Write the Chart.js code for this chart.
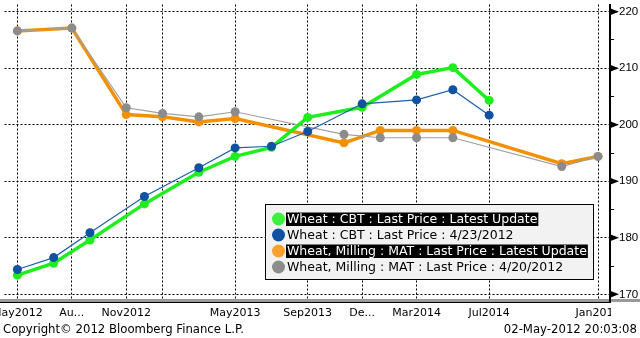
<!DOCTYPE html>
<html>
<head>
<meta charset="utf-8">
<script src="https://cdn.jsdelivr.net/npm/chart.js@4/dist/chart.umd.min.js"></script>
<style>
    body { margin: 0; background: #fff; }
    #wrap { position: relative; width: 640px; height: 338px; }
    .foot { position: absolute; top: 322px; font: 11.7px 'DejaVu Sans', sans-serif; color: #000; white-space: nowrap; }
</style>
</head>
<body>
<div id="wrap">
    <canvas id="curve" width="640" height="338"></canvas>
    <div class="foot" style="left:3px">Copyright© 2012 Bloomberg Finance L.P.</div>
    <div class="foot" style="right:3px">02-May-2012 20:03:08</div>
</div>
<script>
// contract months and prices
const cbtMonths = ['2012-05', '2012-07', '2012-09', '2012-12', '2013-03', '2013-05', '2013-07', '2013-09', '2013-12', '2014-03', '2014-05', '2014-07'];
const cbtLatest = [173.4, 175.5, 179.6, 186.0, 191.6, 194.4, 196.0, 201.3, 203.1, 208.9, 210.1, 204.3];
const cbtApr23 = [174.4, 176.5, 180.9, 187.3, 192.4, 195.9, 196.2, 198.8, 203.7, 204.4, 206.2, 201.7];

const matMonths = ['2012-05', '2012-08', '2012-11', '2013-01', '2013-03', '2013-05', '2013-11', '2014-01', '2014-03', '2014-05', '2014-11', '2015-01'];
const matLatest = [216.6, 217.1, 201.8, 201.4, 200.5, 201.1, 196.8, 199.0, 199.0, 199.0, 193.1, 194.4];
const matApr20 = [216.6, 217.1, 203.0, 202.0, 201.4, 202.3, 198.3, 197.7, 197.7, 197.7, 192.6, 194.4];

// x axis ticks
const tickMonths = ['2012-05', '2012-08', '2012-11', '2013-01', '2013-05', '2013-09', '2013-12', '2014-03', '2014-07', '2015-01'];
const tickLabels = ['May2012', 'Au...', 'Nov2012', '', 'May2013', 'Sep2013', 'De...', 'Mar2014', 'Jul2014', 'Jan2015'];

// months counted from May 2012
function monthIndex(s) {
    const [y, m] = s.split('-').map(Number);
    return (y - 2012) * 12 + (m - 5);
}

function toPoints(months, values) {
    return months.map((m, i) => ({ x: monthIndex(m), y: values[i] }));
}

Chart.defaults.font.family = "'DejaVu Sans', sans-serif";
Chart.defaults.font.size = 11;
Chart.defaults.color = '#000';

// boxed legend with the highlighted rows
const legendBox = {
    id: 'legendBox',
    afterDraw(chart) {
        const ctx = chart.ctx;
        const highlight = [true, false, true, false];
        ctx.save();
        ctx.fillStyle = '#f2f2f2';
        ctx.fillRect(265, 204, 328, 75);
        ctx.strokeStyle = '#000';
        ctx.lineWidth = 1;
        ctx.strokeRect(265.5, 204.5, 328, 75);
        ctx.font = "12.5px 'DejaVu Sans', sans-serif";
        ctx.textBaseline = 'middle';
        chart.data.datasets.forEach((ds, i) => {
            const cy = 219 + i * 16;
            ctx.beginPath();
            ctx.arc(278.5, cy, 6.5, 0, Math.PI * 2);
            ctx.fillStyle = ds.legendColor;
            ctx.fill();
            const w = ctx.measureText(ds.label).width;
            if (highlight[i]) {
                ctx.fillStyle = '#000';
                ctx.fillRect(286, cy - 6.5, w + 2, 13.5);
                ctx.fillStyle = '#fff';
            } else {
                ctx.fillStyle = '#000';
            }
            ctx.fillText(ds.label, 287, cy + 0.5);
        });
        ctx.restore();
    }
};

// axis frame: arrow marks on the price axis and the grey base bar
const frame = {
    id: 'frame',
    afterDraw(chart) {
        const ctx = chart.ctx;
        const area = chart.chartArea;
        const yScale = chart.scales.y;
        ctx.save();
        ctx.fillStyle = '#fff';
        ctx.fillRect(area.right + 1, area.bottom + 3, 640 - area.right, 20);
        ctx.fillStyle = '#000';
        yScale.ticks.forEach(t => {
            if (t.value % 10 !== 0) return;
            const py = yScale.getPixelForValue(t.value);
            ctx.beginPath();
            ctx.moveTo(area.right, py - 3.5);
            ctx.lineTo(area.right + 9, py);
            ctx.lineTo(area.right, py + 3.5);
            ctx.closePath();
            ctx.fill();
        });
        ctx.fillStyle = '#9a9a9a';
        ctx.fillRect(0, area.bottom, 640, 3);
        ctx.fillStyle = '#000';
        ctx.fillRect(0, area.bottom + 3, area.right + 1, 1);
        ctx.fillRect(area.right - 1, area.bottom, 2, 4);
        ctx.restore();
    }
};

const ctx = document.getElementById('curve').getContext('2d');
new Chart(ctx, {
    type: 'line',
    data: {
        datasets: [
            {
                label: 'Wheat : CBT : Last Price : Latest Update',
                data: toPoints(cbtMonths, cbtLatest),
                borderColor: '#1eee1e',
                backgroundColor: '#1eee1e',
                legendColor: '#3df03d',
                borderWidth: 3.5,
                pointRadius: 4.5,
                pointBorderWidth: 0,
                order: 1
            },
            {
                label: 'Wheat : CBT : Last Price : 4/23/2012',
                data: toPoints(cbtMonths, cbtApr23),
                borderColor: '#1f5fae',
                backgroundColor: '#0f52a2',
                legendColor: '#0f52a2',
                borderWidth: 1.2,
                pointRadius: 4.5,
                pointBorderWidth: 0,
                order: 0
            },
            {
                label: 'Wheat, Milling : MAT : Last Price : Latest Update',
                data: toPoints(matMonths, matLatest),
                borderColor: '#f39000',
                backgroundColor: '#f39000',
                legendColor: '#f8a12c',
                borderWidth: 3.5,
                pointRadius: 4.5,
                pointBorderWidth: 0,
                order: 3
            },
            {
                label: 'Wheat, Milling : MAT : Last Price : 4/20/2012',
                data: toPoints(matMonths, matApr20),
                borderColor: '#a0a0a0',
                backgroundColor: '#8c8c8c',
                legendColor: '#8c8c8c',
                borderWidth: 1.2,
                pointRadius: 4.5,
                pointBorderWidth: 0,
                order: 2
            }
        ]
    },
    options: {
        responsive: false,
        animation: false,
        devicePixelRatio: 1,
        layout: { padding: 0 },
        plugins: {
            legend: { display: false },
            tooltip: { enabled: false }
        },
        scales: {
            x: {
                type: 'linear',
                min: -0.71,
                max: 32.66,
                afterBuildTicks: scale => {
                    scale.ticks = tickMonths.map(m => ({ value: monthIndex(m) }));
                },
                afterFit: scale => {
                    scale.height = 39;
                    scale.paddingLeft = 0;
                    scale.paddingRight = 0;
                },
                ticks: {
                    autoSkip: false,
                    maxRotation: 0,
                    padding: 8,
                    callback: (value, index) => tickLabels[index]
                },
                grid: { color: '#000', lineWidth: 1, drawTicks: false },
                border: { display: false, dash: [2, 2] }
            },
            y: {
                position: 'right',
                min: 169.18,
                max: 221.27,
                afterFit: scale => {
                    scale.width = 30;
                    scale.paddingTop = 0;
                    scale.paddingBottom = 0;
                },
                ticks: {
                    stepSize: 5,
                    includeBounds: false,
                    padding: 5,
                    font: { family: "'Liberation Sans', sans-serif", size: 11.5 },
                    callback: value => (value % 10 === 0 ? value : '')
                },
                grid: {
                    color: c => (c.tick && c.tick.value % 10 === 0 ? '#000' : 'rgba(0,0,0,0)'),
                    tickColor: '#000',
                    tickLength: 4,
                    lineWidth: 1
                },
                border: { display: true, color: '#000', width: 2, dash: [2, 2] }
            }
        }
    },
    plugins: [legendBox, frame]
});
</script>
</body>
</html>
